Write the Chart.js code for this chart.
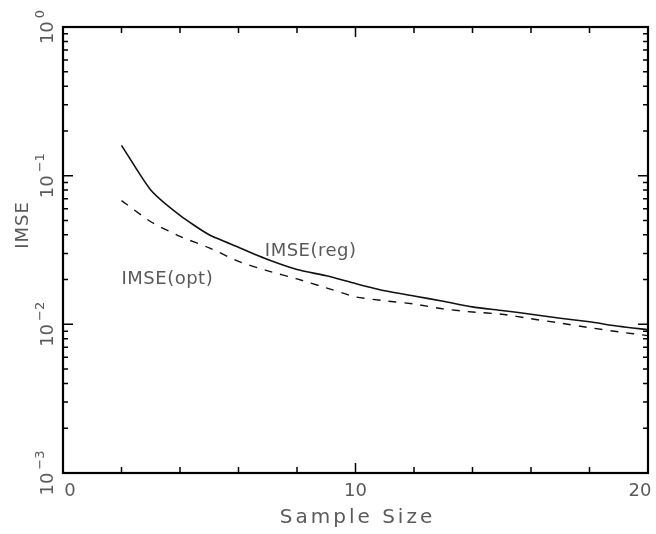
<!DOCTYPE html>
<html lang="en">
<head>
  <meta charset="UTF-8">
  <title>IMSE vs Sample Size</title>
  <script src="https://cdn.jsdelivr.net/npm/chart.js"></script>
  <style>
    body { margin: 0; background: #fff; }
    canvas { display: block; }
  </style>
</head>
<body>
  <canvas id="chart" width="656" height="534"></canvas>
  <script>
    const sampleSizes = [2, 3, 4, 5, 6, 7, 8, 9, 10, 11, 12, 13, 14, 15, 16, 17, 18, 19, 20];
    const imseReg = [0.160, 0.080, 0.054, 0.040, 0.033, 0.0273, 0.0234, 0.0212, 0.0188, 0.0168, 0.0155,
                     0.0143, 0.0131, 0.0124, 0.0117, 0.0110, 0.0104, 0.0097, 0.0092];
    const imseOpt = [0.068, 0.049, 0.039, 0.0327, 0.0265, 0.0229, 0.0202, 0.0176, 0.0153, 0.0144, 0.0137,
                     0.0127, 0.0121, 0.0117, 0.0109, 0.0102, 0.0095, 0.0089, 0.0084];
    const xTicks = [0, 10, 20];
    const yDecades = [-3, -2, -1, 0];

    const textColor = '#5a5a5a';
    const font = '"DejaVu Sans", sans-serif';

    // frame, inward ticks and all the axis text
    const framePlugin = {
      id: 'frame',
      afterDraw(chart) {
        const { ctx, chartArea: a, scales: { x, y } } = chart;
        ctx.save();
        ctx.strokeStyle = '#000';
        ctx.lineWidth = 2.2;
        ctx.strokeRect(a.left, a.top, a.right - a.left, a.bottom - a.top);

        ctx.lineWidth = 1.5;
        ctx.beginPath();
        for (let v = 0; v <= 20; v += 2) {
          const px = x.getPixelForValue(v);
          const len = xTicks.includes(v) ? 10 : 6;
          ctx.moveTo(px, a.bottom); ctx.lineTo(px, a.bottom - len);
          ctx.moveTo(px, a.top); ctx.lineTo(px, a.top + len);
        }
        yDecades.forEach(d => {
          for (let m = 1; m <= 9; m++) {
            if (d === 0 && m > 1) break;
            const py = y.getPixelForValue(m * Math.pow(10, d));
            const len = m === 1 ? 10 : 5;
            ctx.moveTo(a.left, py); ctx.lineTo(a.left + len, py);
            ctx.moveTo(a.right, py); ctx.lineTo(a.right - len, py);
          }
        });
        ctx.stroke();

        ctx.fillStyle = textColor;
        // x tick labels
        ctx.font = '18px ' + font;
        ctx.textAlign = 'center';
        ctx.textBaseline = 'middle';
        xTicks.forEach(v => {
          let px = x.getPixelForValue(v);
          if (v === 0) px += 7;
          if (v === 20) px -= 8;
          ctx.fillText(String(v), px, a.bottom + 18);
        });

        // y tick labels, rotated, with exponent
        yDecades.forEach(d => {
          const py = y.getPixelForValue(Math.pow(10, d));
          ctx.save();
          ctx.translate(53, py);
          ctx.rotate(-Math.PI / 2);
          ctx.textBaseline = 'alphabetic';
          ctx.font = '18px ' + font;
          const base = '10';
          const exp = d === 0 ? '0' : '\u2212' + (-d);
          const wb = ctx.measureText(base).width;
          ctx.font = '13px ' + font;
          const we = ctx.measureText(exp).width;
          const start = -(wb + we + 3) / 2;
          ctx.textAlign = 'left';
          ctx.font = '18px ' + font;
          ctx.fillText(base, start, 0);
          ctx.font = '13px ' + font;
          ctx.fillText(exp, start + wb + 3, -9);
          ctx.restore();
        });

        // axis titles
        ctx.font = '20px ' + font;
        ctx.letterSpacing = '3px';
        ctx.textAlign = 'center';
        ctx.textBaseline = 'middle';
        ctx.fillText('Sample Size', (a.left + a.right) / 2 + 2, 518);
        ctx.font = '18px ' + font;
        ctx.letterSpacing = '1px';
        ctx.save();
        ctx.translate(23, 225);
        ctx.rotate(-Math.PI / 2);
        ctx.fillText('IMSE', 0, 0);
        ctx.restore();

        // curve labels
        ctx.font = '18px ' + font;
        ctx.letterSpacing = '0.5px';
        ctx.textAlign = 'left';
        ctx.fillText('IMSE(reg)', x.getPixelForValue(6.9), y.getPixelForValue(0.031));
        ctx.fillText('IMSE(opt)', x.getPixelForValue(2.0), y.getPixelForValue(0.020));
        ctx.restore();
      }
    };

    const ctx = document.getElementById('chart').getContext('2d');
    new Chart(ctx, {
      type: 'line',
      data: {
        labels: sampleSizes,
        datasets: [
          {
            label: 'IMSE(reg)',
            data: sampleSizes.map((s, i) => ({ x: s, y: imseReg[i] })),
            borderColor: '#111',
            borderWidth: 1.6,
            pointRadius: 0,
            tension: 0.2
          },
          {
            label: 'IMSE(opt)',
            data: sampleSizes.map((s, i) => ({ x: s, y: imseOpt[i] })),
            borderColor: '#111',
            borderWidth: 1.4,
            borderDash: [8, 8],
            pointRadius: 0,
            tension: 0.2
          }
        ]
      },
      options: {
        responsive: false,
        animation: false,
        layout: { padding: { left: 63, right: 8, top: 27, bottom: 61 } },
        plugins: { legend: { display: false }, tooltip: { enabled: false } },
        scales: {
          x: { type: 'linear', min: 0, max: 20, display: false },
          y: { type: 'logarithmic', min: 0.001, max: 1, display: false }
        }
      },
      plugins: [framePlugin]
    });
  </script>
</body>
</html>
